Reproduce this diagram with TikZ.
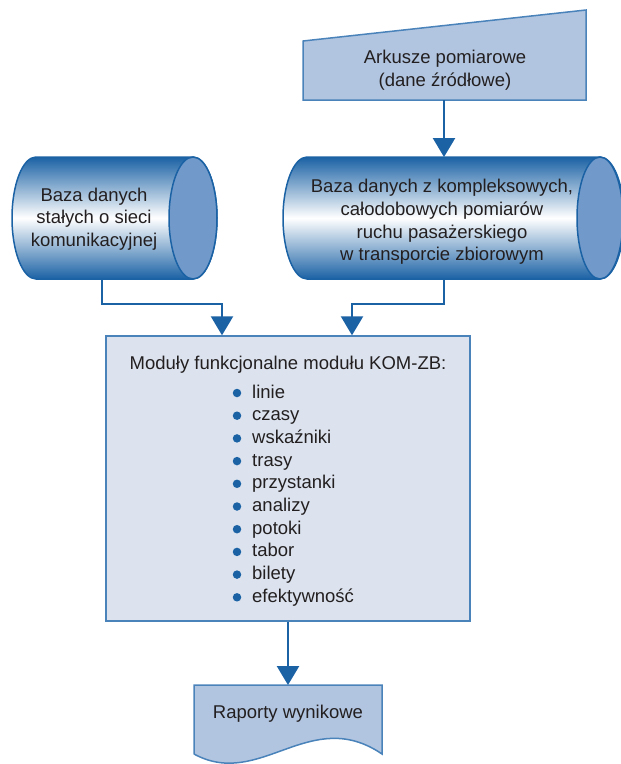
\documentclass[tikz,border=0pt]{standalone}
\usepackage{fontspec}
\setmainfont{Liberation Sans}
\usepackage{xcolor}
\usetikzlibrary{calc,arrows.meta}
\definecolor{ink}{HTML}{231F20}
\definecolor{darkblue}{HTML}{1B62A5}
\definecolor{edgeblue}{HTML}{4A82BA}
\definecolor{paleblue}{HTML}{B1C5E0}
\definecolor{capblue}{HTML}{7199C9}
\definecolor{boxfill}{HTML}{DCE3EE}
\tikzset{
  flow/.style={draw=darkblue, line width=2.6pt, -{Triangle[width=22pt,length=19pt]}},
  sheet/.style={draw=edgeblue, line width=1.5pt, fill=paleblue},
  modbox/.style={draw=edgeblue, line width=1.5pt, fill=boxfill},
  body/.style={draw=darkblue, line width=1.5pt, top color=darkblue, bottom color=darkblue, middle color=white},
  endcap/.style={draw=darkblue, line width=1.5pt, fill=capblue},
  txt/.style={text=ink, font=\fontsize{18.5}{22.6}\selectfont, align=center, inner sep=0pt},
  dot/.style={circle, fill=darkblue, inner sep=0pt, minimum size=8.5pt}
}

\begin{document}
\begin{tikzpicture}[x=1pt, y=-1pt]
  \useasboundingbox (0,0) rectangle (621,764);

  % zrodlo danych
  \draw[sheet] (303,41) -- (586,10) -- (586,100) -- (303,100) -- cycle;
  \node[txt] (ark) at (445,70) {Arkusze pomiarowe\\(dane źródłowe)};
  \coordinate (ark-b) at (444,100);

  % bazy danych
  \draw[body] (193,157) -- (36,157) arc[start angle=270, end angle=90, x radius=24, y radius=61]
    -- (193,279) arc[start angle=90, end angle=-90, x radius=24, y radius=61] -- cycle;
  \draw[endcap] (193,218) ellipse[x radius=24, y radius=61];
  \node[txt] (dbL) at (94,219) {Baza danych\\stałych o sieci\\komunikacyjnej};
  \coordinate (dbL-b) at (102,279);

  \draw[body] (600,157) -- (307,157) arc[start angle=270, end angle=90, x radius=24, y radius=61]
    -- (600,279) arc[start angle=90, end angle=-90, x radius=24, y radius=61] -- cycle;
  \draw[endcap] (600,218) ellipse[x radius=23, y radius=61];
  \node[txt] (dbR) at (442,222) {Baza danych z kompleksowych,\\całodobowych pomiarów\\ruchu pasażerskiego\\w transporcie zbiorowym};
  \coordinate (dbR-t) at (444,157);
  \coordinate (dbR-b) at (444,279);

  % moduly
  \node[modbox, minimum width=364pt, minimum height=285pt] (mod) at (288,478.5) {};
  \node[txt, anchor=base] (head) at (288,369) {Moduły funkcjonalne modułu KOM-ZB:};
  \foreach \t [count=\i] in {linie,czasy,wskaźniki,trasy,przystanki,analizy,potoki,tabor,bilety,efektywność}{
    \node[dot] (b\i) at (237,{393+22.7*(\i-1)}) {};
    \node[txt, anchor=base west] (it\i) at (252,{398+22.7*(\i-1)}) {\t};
  }

  % raporty
  \draw[sheet] (194,754) -- (194,685) -- (382,685) -- (382,754)
    .. controls (310,705) and (260,790) .. (194,754);
  \node[txt, anchor=base] (rap) at (288,718) {Raporty wynikowe};
  \coordinate (rap-t) at (288,685);

  \draw[flow] (ark-b) -- (dbR-t);
  \draw[flow] (dbL-b) -- ++(0,25) -| (mod.north -| 222,0);
  \draw[flow] (dbR-b) -- ++(0,25) -| (mod.north -| 352,0);
  \draw[flow] (mod.south) -- (rap-t);
\end{tikzpicture}
\end{document}
